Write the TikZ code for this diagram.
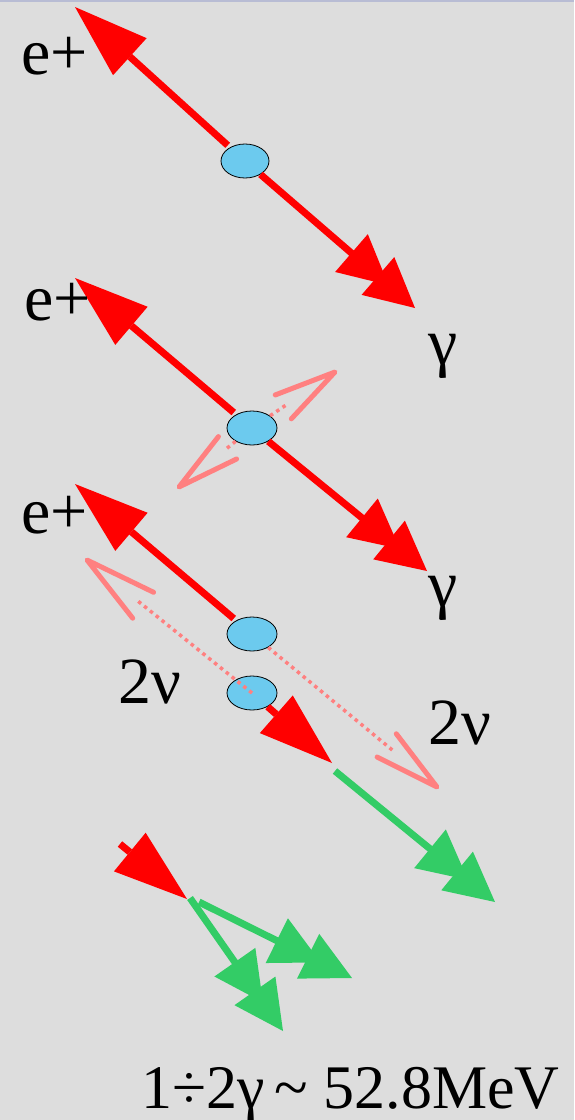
\documentclass[tikz,border=0pt]{standalone}
\usepackage{fontspec}
\setmainfont{Liberation Serif}
\usetikzlibrary{arrows.meta,calc,shapes.geometric}
\definecolor{bg}{RGB}{221,221,221}
\definecolor{topln}{RGB}{184,188,212}
\definecolor{redc}{RGB}{255,0,0}
\definecolor{greenc}{RGB}{51,204,102}
\definecolor{pinkc}{RGB}{255,128,128}
\definecolor{bluec}{RGB}{108,202,238}
\tikzset{
  bigtri/.tip={Triangle[length=74pt,width=50pt,line width'=0pt]},
  dbltri/.tip={Triangle[length=49pt,width=50pt,line width'=0pt,sep=-14pt] Triangle[length=49pt,width=50pt,line width'=0pt]},
}
\begin{document}
\begin{tikzpicture}[x=1pt,y=-1pt,
  blob/.style={ellipse,draw=black,line width=0.8pt,fill=bluec,minimum width=50pt,minimum height=34pt,inner sep=0pt},
  lbl/.style={inner sep=0pt,anchor=base west,font=\fontsize{66}{72}\selectfont},
  posi/.style={draw=redc,line width=7pt,-{bigtri}},
  gam/.style={draw=redc,line width=7pt,-{dbltri}},
  grn/.style={draw=greenc,line width=7pt,-{dbltri}},
  nuV/.style={draw=pinkc,line width=5pt,line cap=round,line join=round},
  nudot/.style={draw=pinkc,line width=3.5pt,dash pattern=on 3.5pt off 4pt}]
\fill[bg] (0,0) rectangle (574,1120);
\fill[topln] (0,0) rectangle (574,2);
\useasboundingbox (0,0) rectangle (574,1120);

% block 1
\node[blob,minimum width=48pt] (e1) at (245,161) {};
\coordinate (a1) at (75,7);
\coordinate (g1) at (415,308);
\draw[posi,shorten <=3pt] (e1) -- (a1);
\draw[gam] (e1) -- (g1);
\node[lbl] (l1) at (21,74) {e+};
\node[lbl] (l2) at (428,364) {γ};

% block 2
\node[blob] (e2) at (252,428) {};
\coordinate (a2) at (75,278);
\coordinate (g2) at (427,571);
\coordinate (n2a) at (335,372);
\coordinate (n2b) at (179,487);
\draw[nudot] (e2) -- ($(n2a)!56pt!(e2)$);
\draw[nudot] (e2) -- ($(n2b)!59pt!(e2)$);
\draw[nuV] ($(n2a)!64pt!13:(e2)$) -- (n2a) -- ($(n2a)!64pt!-13:(e2)$);
\draw[nuV] ($(n2b)!64pt!13:(e2)$) -- (n2b) -- ($(n2b)!64pt!-13:(e2)$);
\draw[posi,shorten <=3pt] (e2) -- (a2);
\draw[gam] (e2) -- (g2);
\node[lbl] (l3) at (24,320) {e+};
\node[lbl] (l4) at (428,606) {γ};

% block 3
\node[blob] (e3) at (252,634) {};
\node[blob] (e4) at (252,693) {};
\coordinate (a3) at (75,484);
\coordinate (r3) at (332,763);
\coordinate (gs3) at (335,771);
\coordinate (gt3) at (495,902);
\coordinate (n3a) at (87,560);
\coordinate (n3b) at (437,787);
\draw[nudot] (e3) -- ($(n3b)!57pt!(e3)$);
\draw[nuV] ($(n3b)!67pt!13:(e3)$) -- (n3b) -- ($(n3b)!67pt!-13:(e3)$);
\draw[nudot] (e4.center) -- ($(n3a)!65pt!(e4)$);
\draw[nuV] ($(n3a)!74pt!13:(e4)$) -- (n3a) -- ($(n3a)!74pt!-13:(e4)$);
\draw[posi,shorten <=3pt] (e3) -- (a3);
\draw[posi] (e4) -- (r3);
\draw[grn] (gs3) -- (gt3);
\node[lbl] (l5) at (21,533) {e+};
\node[lbl] (l6) at (118,703) {2ν};
\node[lbl] (l7) at (428,744) {2ν};

% block 4
\coordinate (rs4) at (120,844);
\coordinate (rt4) at (187,899);
\coordinate (gs4a) at (190,898);
\coordinate (gt4a) at (283,1031);
\coordinate (gs4b) at (199,902);
\coordinate (gt4b) at (352,978);
\draw[posi] (rs4) -- (rt4);
\draw[grn] (gs4a) -- (gt4a);
\draw[grn] (gs4b) -- (gt4b);

\node[inner sep=0pt,anchor=base west,font=\fontsize{62}{68}\selectfont] (t) at (141,1108) {1÷2γ\hspace{10pt}\textasciitilde{} 52.8MeV};
\end{tikzpicture}
\end{document}
